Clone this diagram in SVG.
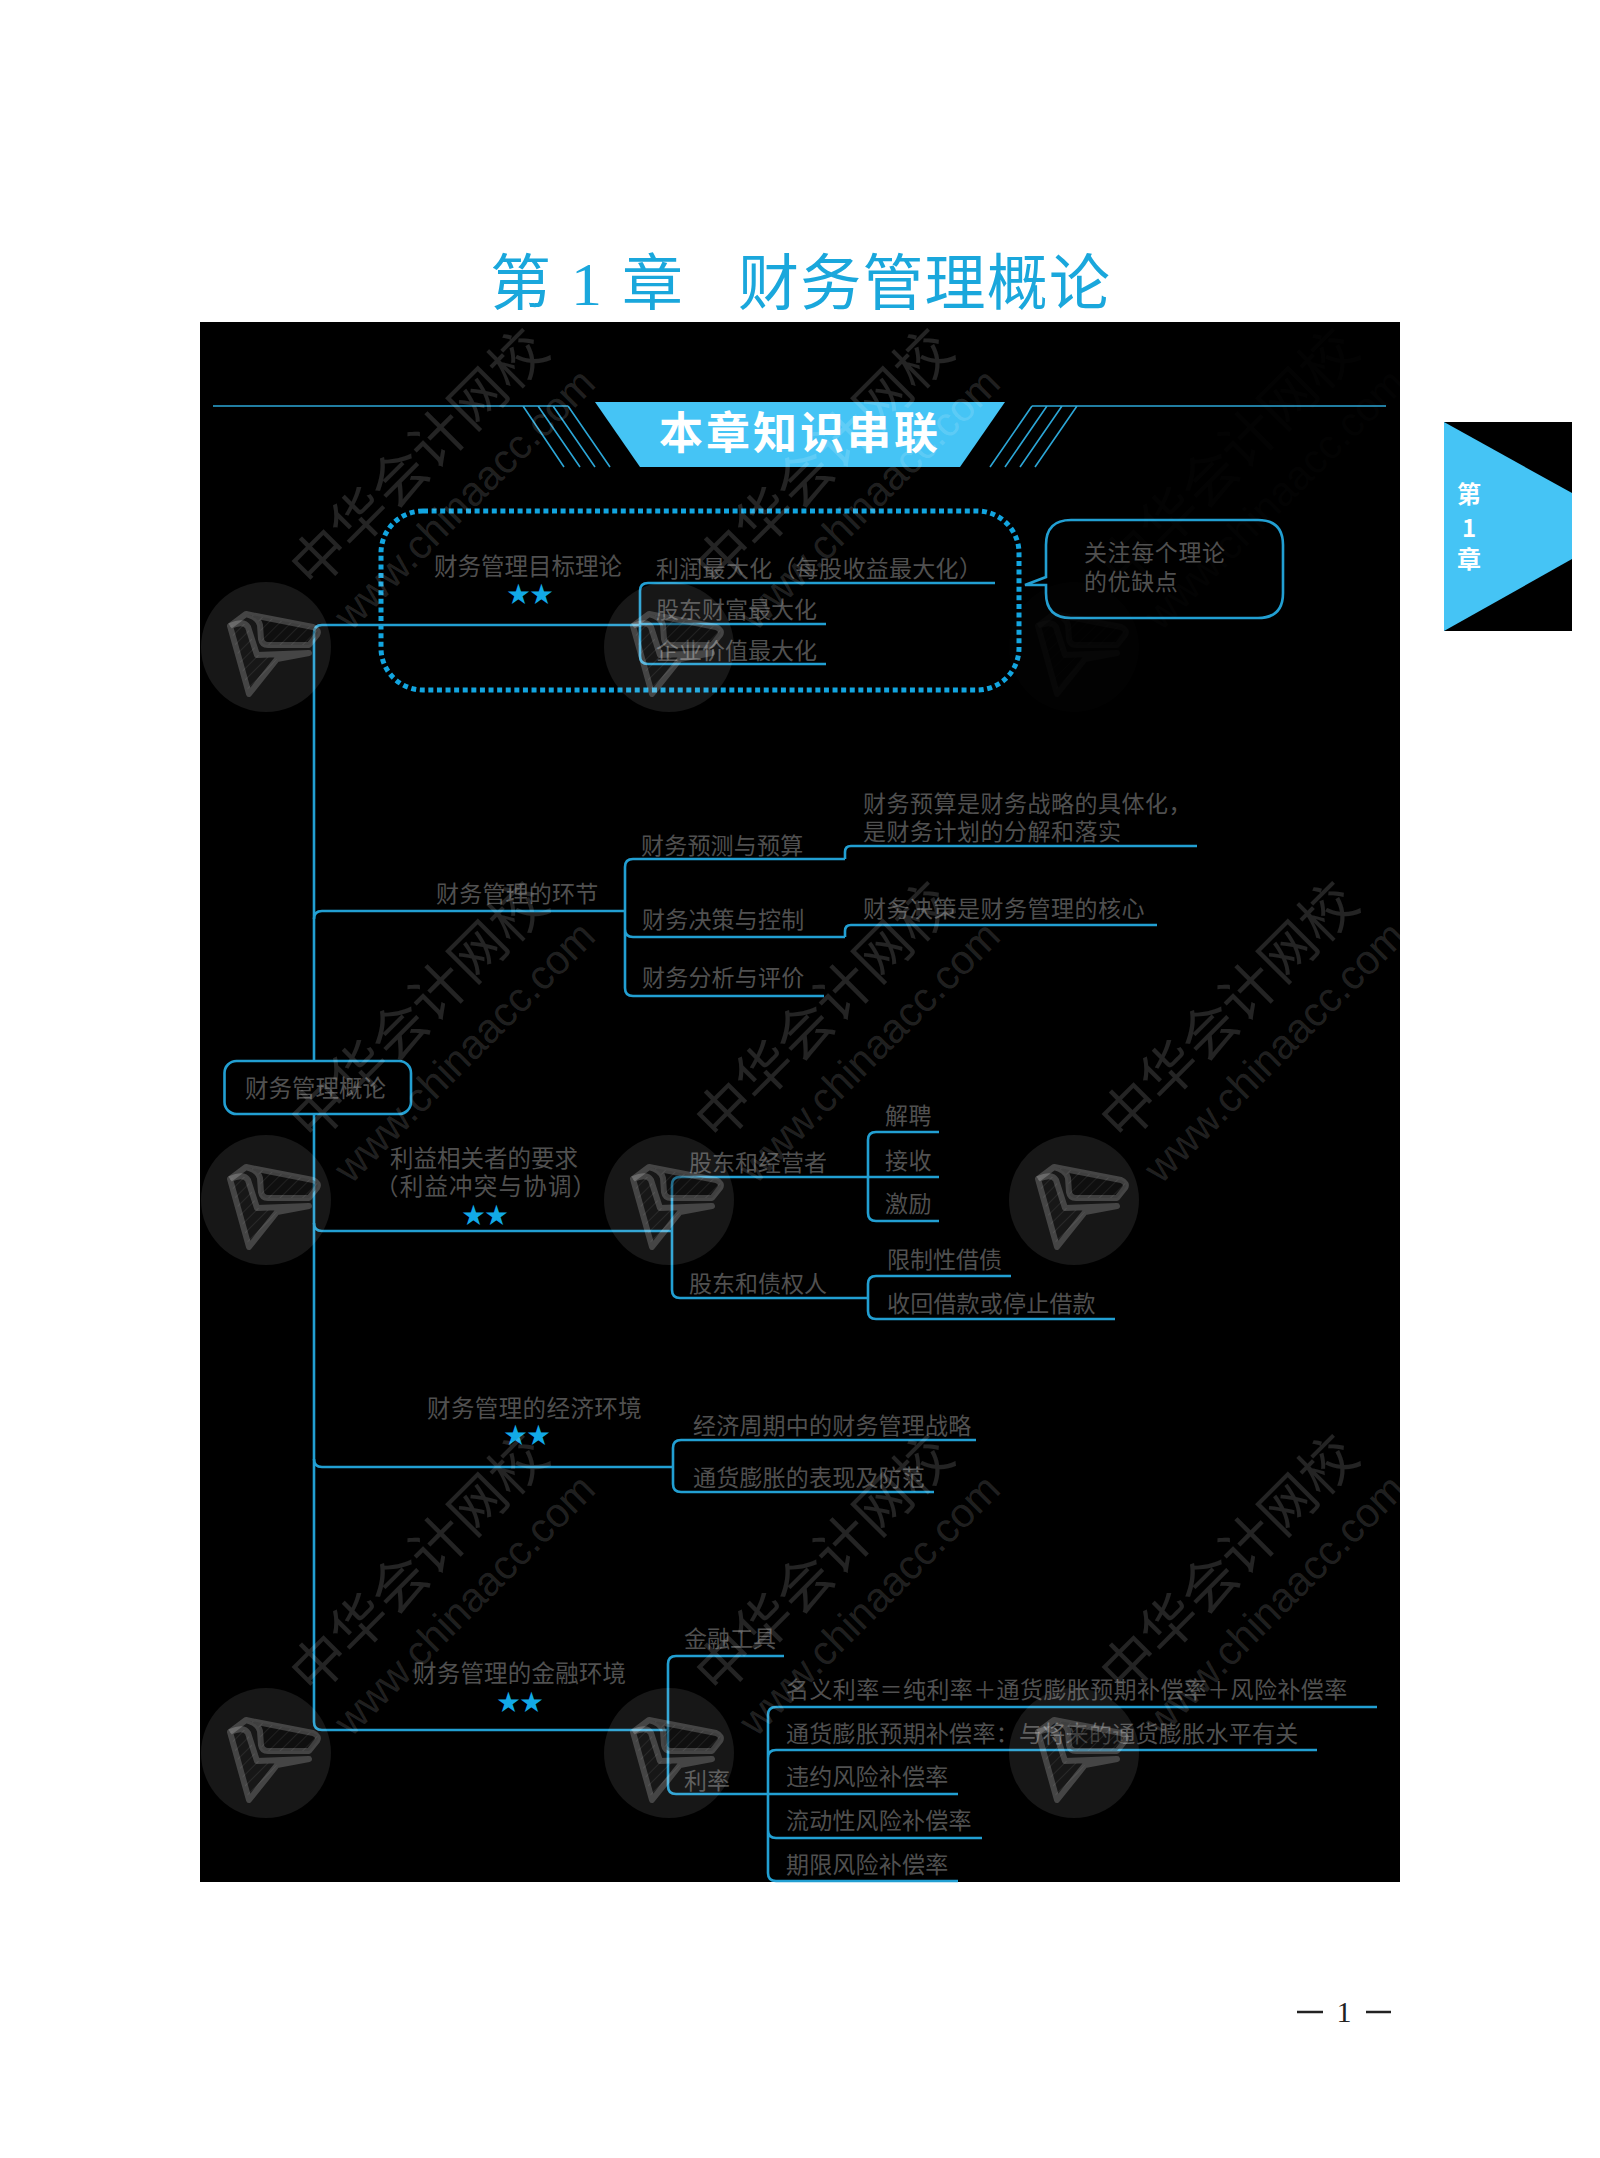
<svg xmlns="http://www.w3.org/2000/svg" xmlns:xlink="http://www.w3.org/1999/xlink" width="1600" height="2158" viewBox="0 0 1600 2158">
<style>
text{font-family:"Noto Sans CJK SC","Liberation Sans",sans-serif}
.t{font-size:23px;fill:#505050}
.m{font-size:23.5px;fill:#505050}
.s{font-size:23px;fill:#12a9e6}
.c{fill:none;stroke:#229fd2;stroke-width:2.6}
.h{fill:none;stroke:#2ca6d6;stroke-width:1.6}
.wm{font-size:56px;fill:#fff;fill-opacity:.14}
.wu{font-size:41px;fill:#fff;fill-opacity:.14;font-family:"Liberation Sans",sans-serif}
.lg{fill:none;stroke:#fff;stroke-opacity:.2;stroke-width:6;stroke-linejoin:round}
</style>
<defs>
<clipPath id="cl"><rect x="200" y="322" width="1200" height="1560"/></clipPath>
<pattern id="ht" width="8" height="8" patternUnits="userSpaceOnUse" patternTransform="rotate(45)"><path d="M0,0V8" stroke="#fff" stroke-opacity=".12" stroke-width="1.200"/></pattern>
<g id="mark">
<text class="wm" transform="translate(314,591) rotate(-45)">中华会计网校</text>
<text class="wu" transform="translate(351,632) rotate(-45)">www.chinaacc.com</text>
</g>
<g id="seal">
<circle r="65" fill="#fff" fill-opacity=".09"/>
<path d="M-20,-33L47,-20Q54,-17 51,-12L43,-2H2Q-4,-2 -5,-8L-6,-22Q-8,-30 -20,-33Z" fill="#000" fill-opacity=".35"/>
<path d="M-20,-33L47,-20Q54,-17 51,-12L43,-2H2Q-4,-2 -5,-8L-6,-22Q-8,-30 -20,-33Z" fill="url(#ht)"/>
<path d="M-36,-21L-17,47L11,12L-9,8L-18,-20Q-22,-27 -36,-21Z" fill="url(#ht)"/>
<path class="lg" d="M-36,-21L-20,-33L47,-20Q54,-17 51,-12L43,-2H2Q-4,-2 -5,-8L-6,-22Q-8,-30 -20,-33"/>
<path class="lg" d="M-36,-21L-17,47L11,12L43,6L-9,8L-18,-20Q-22,-27 -36,-21Z"/>
</g>
</defs>
<rect width="1600" height="2158" fill="#fff"/>
<g id="title"><text font-size="61" fill="#1aa7dc" y="305"><tspan x="490">第</tspan><tspan x="571" font-family="Liberation Serif" font-size="62">1</tspan><tspan x="622">章</tspan><tspan x="738" letter-spacing="1.200">财务管理概论</tspan></text></g>
<rect id="board" x="200" y="322" width="1200" height="1560" fill="#000"/>
<g id="header">
<path class="h" d="M213,406H568M523,406L564,467M538,406L580,467M553,406L595,467M568,406L610,467M1386,406H1032M1032,406L990,467M1047,406L1005,467M1062,406L1020,467M1077,406L1035,467"/>
<polygon points="595,402 1005,402 960,467 640,467" fill="#45c4f5"/>
<text x="800" y="449" font-size="44" font-weight="700" fill="#fff" text-anchor="middle" letter-spacing="3">本章知识串联</text>
</g>
<g id="tab">
<rect x="1444" y="422" width="128" height="209" fill="#45c4f5"/>
<polygon points="1444,422 1572,422 1572,493" fill="#000"/>
<polygon points="1572,559 1572,631 1444,631" fill="#000"/>
<text font-size="24" font-weight="700" fill="#fff" text-anchor="middle"><tspan x="1469" y="503">第</tspan><tspan x="1469" y="537">1</tspan><tspan x="1469" y="568">章</tspan></text>
</g>
<rect id="focus" x="381" y="511" width="638" height="179" rx="42" fill="none" stroke="#12a5e0" stroke-width="5" stroke-dasharray="5 3.6"/>
<g id="connectors">
<path class="c" d="M640,625H322Q314,625 314,633V1722Q314,1730 322,1730H668"/>
<path class="c" d="M314,919Q314,911 322,911H625"/>
<path class="c" d="M314,1223Q314,1231 322,1231H672"/>
<path class="c" d="M314,1459Q314,1467 322,1467H673"/>
<path class="c" d="M995,583H648Q640,583 640,591V656Q640,664 648,664H826M640,624H826"/>
<path class="c" d="M845,859H633Q625,859 625,867V988Q625,996 633,996H824M625,929Q625,937 633,937H845"/>
<path class="c" d="M845,859V852Q845,846 851,846H1197M845,937V931Q845,925 851,925H1157"/>
<path class="c" d="M939,1177H680Q672,1177 672,1185V1290Q672,1298 680,1298H868"/>
<path class="c" d="M939,1132H876Q868,1132 868,1140V1213Q868,1221 876,1221H939"/>
<path class="c" d="M1011,1276H876Q868,1276 868,1284V1311Q868,1319 876,1319H1115"/>
<path class="c" d="M976,1440H681Q673,1440 673,1448V1484Q673,1492 681,1492H934"/>
<path class="c" d="M784,1656H676Q668,1656 668,1664V1786Q668,1794 676,1794H958"/>
<path class="c" d="M1377,1707H776Q768,1707 768,1715V1873Q768,1881 776,1881H958M1317,1750H776Q768,1750 768,1758M982,1838H776Q768,1838 768,1830"/>
</g>
<g id="root"><rect x="224.500" y="1061" width="186.500" height="53" rx="12" fill="#000" stroke="#229fd2" stroke-width="2.600"/><text class="m" x="245" y="1097">财务管理概论</text></g>
<g id="note"><path d="M1071,520H1258Q1283,520 1283,545V593Q1283,618 1258,618H1071Q1046,618 1046,593V585H1025L1046,577V545Q1046,520 1071,520Z" class="c"/><text class="t" x="1084" y="561" letter-spacing=".6">关注每个理论</text><text class="t" x="1084" y="590" letter-spacing=".6">的优缺点</text></g>
<g id="n1"><text class="m" x="434" y="575">财务管理目标理论</text><text class="s" x="530" y="602" text-anchor="middle">★★</text></g>
<g id="n1a"><text class="t" x="656" y="577" letter-spacing=".3">利润最大化（每股收益最大化）</text></g>
<g id="n1b"><text class="t" x="656" y="618">股东财富最大化</text></g>
<g id="n1c"><text class="t" x="656" y="659">企业价值最大化</text></g>
<g id="n2"><text class="t" x="436" y="902" letter-spacing=".2">财务管理的环节</text></g>
<g id="n2a"><text class="t" x="641" y="854" letter-spacing=".2">财务预测与预算</text></g>
<g id="n2a1"><text class="t" x="863" y="812" letter-spacing=".5">财务预算是财务战略的具体化，</text><text class="t" x="863" y="840" letter-spacing=".5">是财务计划的分解和落实</text></g>
<g id="n2b"><text class="t" x="642" y="928" letter-spacing=".2">财务决策与控制</text></g>
<g id="n2b1"><text class="t" x="863" y="917" letter-spacing=".5">财务决策是财务管理的核心</text></g>
<g id="n2c"><text class="t" x="642" y="986" letter-spacing=".2">财务分析与评价</text></g>
<g id="n3"><text class="m" x="390" y="1167">利益相关者的要求</text><text class="m" x="375" y="1195" letter-spacing="1.200">（利益冲突与协调）</text><text class="s" x="485" y="1223" text-anchor="middle">★★</text></g>
<g id="n3a"><text class="t" x="689" y="1171">股东和经营者</text></g>
<g id="n3a1"><text class="t" x="885" y="1124" letter-spacing=".4">解聘</text></g>
<g id="n3a2"><text class="t" x="885" y="1169" letter-spacing=".4">接收</text></g>
<g id="n3a3"><text class="t" x="885" y="1212" letter-spacing=".4">激励</text></g>
<g id="n3b"><text class="t" x="689" y="1292">股东和债权人</text></g>
<g id="n3b1"><text class="t" x="887" y="1268">限制性借债</text></g>
<g id="n3b2"><text class="t" x="887" y="1312" letter-spacing=".2">收回借款或停止借款</text></g>
<g id="n4"><text class="m" x="427" y="1417" letter-spacing=".4">财务管理的经济环境</text><text class="s" x="527" y="1443" text-anchor="middle">★★</text></g>
<g id="n4a"><text class="t" x="693" y="1434" letter-spacing=".2">经济周期中的财务管理战略</text></g>
<g id="n4b"><text class="t" x="693" y="1486" letter-spacing=".2">通货膨胀的表现及防范</text></g>
<g id="n5"><text class="m" x="413" y="1682" letter-spacing=".2">财务管理的金融环境</text><text class="s" x="520" y="1710" text-anchor="middle">★★</text></g>
<g id="n5a"><text class="t" x="684" y="1647">金融工具</text></g>
<g id="n5b"><text class="t" x="684" y="1789">利率</text></g>
<g id="n5b1"><text class="t" x="786" y="1698" letter-spacing=".4">名义利率＝纯利率＋通货膨胀预期补偿率＋风险补偿率</text></g>
<g id="n5b2"><text class="t" x="786" y="1742" letter-spacing=".3">通货膨胀预期补偿率：与将来的通货膨胀水平有关</text></g>
<g id="n5b3"><text class="t" x="786" y="1785" letter-spacing=".2">违约风险补偿率</text></g>
<g id="n5b4"><text class="t" x="786" y="1829" letter-spacing=".2">流动性风险补偿率</text></g>
<g id="n5b5"><text class="t" x="786" y="1873" letter-spacing=".2">期限风险补偿率</text></g>
<g id="watermark" clip-path="url(#cl)">
<use xlink:href="#mark"/><use xlink:href="#mark" x="405"/><use xlink:href="#mark" x="810" opacity=".1"/>
<use xlink:href="#mark" y="553"/><use xlink:href="#mark" x="405" y="553"/><use xlink:href="#mark" x="810" y="553"/>
<use xlink:href="#mark" y="1106"/><use xlink:href="#mark" x="405" y="1106"/><use xlink:href="#mark" x="810" y="1106"/>
<use xlink:href="#seal" x="266" y="647"/><use xlink:href="#seal" x="669" y="647"/><use xlink:href="#seal" x="1074" y="647" opacity=".1"/>
<use xlink:href="#seal" x="266" y="1200"/><use xlink:href="#seal" x="669" y="1200"/><use xlink:href="#seal" x="1074" y="1200"/>
<use xlink:href="#seal" x="266" y="1753"/><use xlink:href="#seal" x="669" y="1753"/><use xlink:href="#seal" x="1074" y="1753"/>
</g>
<g id="page"><text x="1344" y="2022" font-size="30" fill="#222" text-anchor="middle" style="font-family:'Liberation Serif',serif">1</text><path d="M1297,2012H1323M1366,2012H1391" stroke="#222" stroke-width="2.500" fill="none"/></g>
</svg>
